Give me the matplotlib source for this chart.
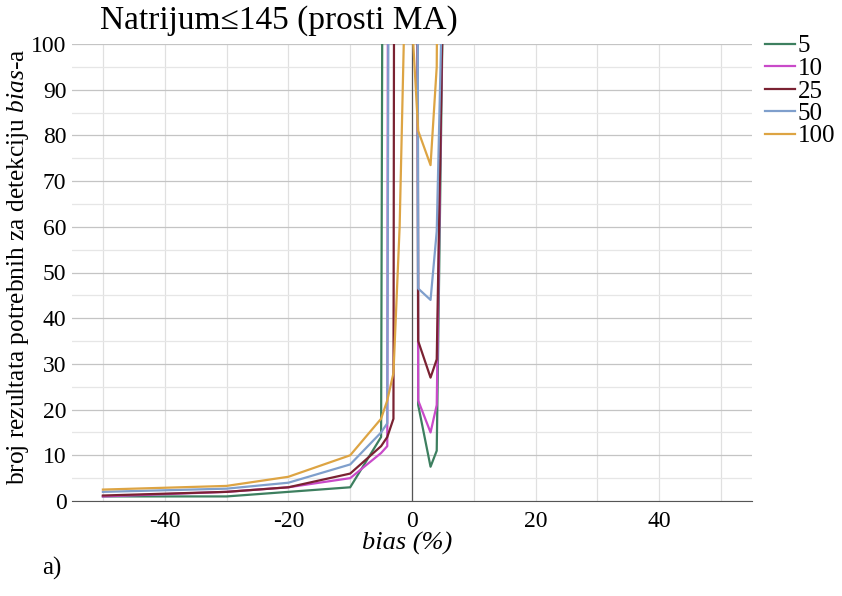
import numpy as np
import matplotlib
matplotlib.use('Agg')
import matplotlib.pyplot as plt
from matplotlib.ticker import MultipleLocator

plt.rcParams['font.family'] = ['Liberation Serif', 'DejaVu Serif']
plt.rcParams['mathtext.fontset'] = 'custom'
plt.rcParams['mathtext.it'] = 'Liberation Serif:italic'
plt.rcParams['mathtext.rm'] = 'Liberation Serif'
plt.rcParams['axes.unicode_minus'] = False

# bias (%) points, values above 100 are off the chart
bias = [-50, -30, -20, -10, -5, -4, -3, -2, -1, 0, 1, 3, 4, 5, 10]
n5   = [1.0, 1.0, 2.0, 3.0, 14.0, 500, 1000, 1000, 1000, 1000, 21, 7.5, 11, 110, 1000]
n10  = [1.0, 2.0, 3.0, 5.0, 10.5, 12, 1000, 1000, 1000, 1000, 22, 15, 21, 115, 1000]
n25  = [1.2, 2.0, 3.0, 6.0, 12.0, 14, 18, 1000, 1000, 1000, 35, 27, 31, 110, 1000]
n50  = [2.0, 2.7, 4.0, 8.0, 15.0, 17, 500, 1000, 1000, 1000, 46.5, 44, 59, 118, 1000]
n100 = [2.5, 3.3, 5.3, 10.0, 18.0, 22, 28, 60, 120, 105, 81, 73.5, 95, 300, 1000]

series = [('5', n5, '#3d7f5f'), ('10', n10, '#c94ac9'), ('25', n25, '#7a2232'),
          ('50', n50, '#7f9fcc'), ('100', n100, '#dda443')]

fig = plt.figure(figsize=(8.42, 5.96), dpi=100)
ax = fig.add_axes([72/842, 1-501/596, 680/842, 457/596])

for lab, vals, col in series:
    ax.plot(bias, vals, color=col, lw=1.6, label=lab, zorder=3)

ax.set_xlim(-55, 55)
ax.set_ylim(0, 100)
ax.xaxis.set_major_locator(MultipleLocator(20))
ax.xaxis.set_minor_locator(MultipleLocator(10))
ax.yaxis.set_major_locator(MultipleLocator(10))
ax.yaxis.set_minor_locator(MultipleLocator(5))
ax.grid(which='major', axis='y', color='#c4c4c4', lw=0.9)
ax.grid(which='minor', axis='y', color='#e6e6e6', lw=0.9)
ax.grid(which='both', axis='x', color='#e0e0e0', lw=0.9)
ax.set_axisbelow(True)

for s in ['left', 'right', 'top']:
    ax.spines[s].set_visible(False)
ax.spines['bottom'].set_color('#555555')
ax.axvline(0, color='#555555', lw=0.9, zorder=2)

ax.tick_params(axis='both', which='both', length=0, labelsize=17)
ax.tick_params(axis='x', pad=7)
ax.tick_params(axis='y', pad=4)

ax.set_xlabel('bias (%)', fontsize=19, style='italic', va='center')
ax.xaxis.set_label_coords((407-72)/680, (501-543)/457)
ax.set_ylabel('broj rezultata potrebnih za detekciju $bias$-a', fontsize=18.3, va='center')
ax.yaxis.set_label_coords((18-72)/680, (501-267)/457)

fig.text(100/842, 1-21/596, 'Natrijum\u2264145 (prosti MA)', fontsize=24, va='center', ha='left')
fig.text(42/842, 1-568/596, 'a)', fontsize=18, va='center', ha='left')

leg = fig.legend(loc='upper left', bbox_to_anchor=(765/842, 1-35/596), frameon=False,
                 fontsize=18, labelspacing=0.0, handlelength=1.2, handletextpad=0.1,
                 borderpad=0, borderaxespad=0)

fig.savefig('out.png', dpi=100)
